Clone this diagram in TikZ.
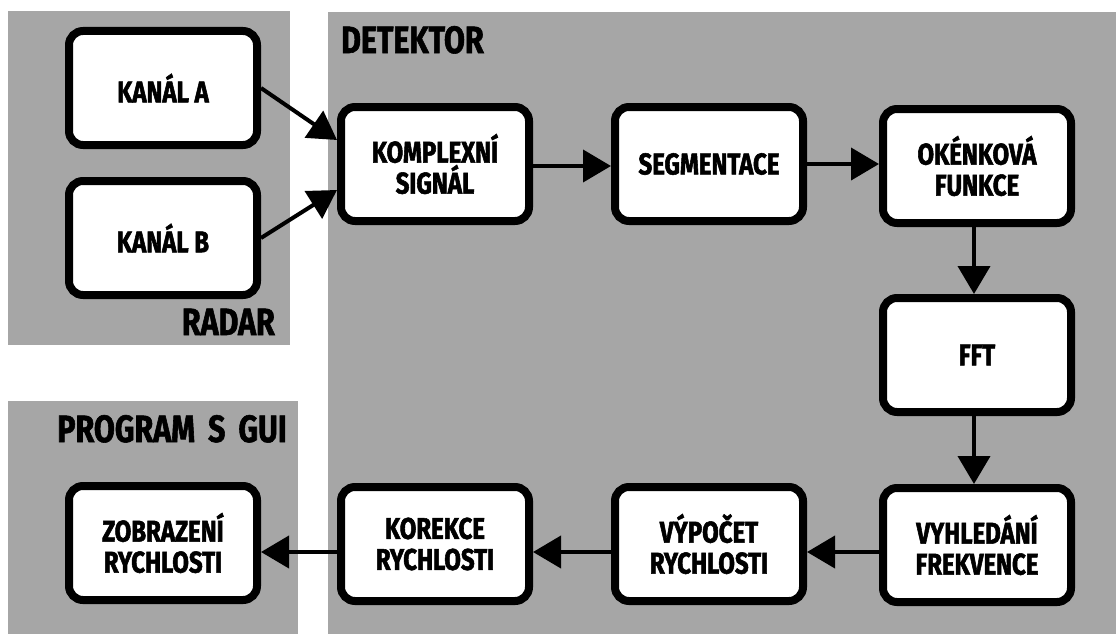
\documentclass[tikz,border=0pt]{standalone}
\usepackage{fontspec}
\newfontfamily\diafont{Fira Sans}[FakeStretch=0.8,FakeBold=1.5]
\newfontfamily\blokfont{Fira Sans}[FakeStretch=0.8,FakeBold=1.8]
\usetikzlibrary{arrows.meta}
\definecolor{zonegray}{RGB}{166,166,166}

\begin{document}
\begin{tikzpicture}[x=1pt,y=-1pt,
		blok/.style={draw,line width=8pt,rounded corners=14pt,fill=white,minimum width=188pt,minimum height=114pt,align=center,font=\blokfont\bfseries\fontsize{30}{31}\selectfont},
		zona/.style={inner sep=0pt,font=\diafont\bfseries\fontsize{38}{38}\selectfont},
		sipka/.style={line width=4pt,-{Triangle[length=28pt,width=32pt]}}]
		\useasboundingbox (0,0) rectangle (1116,634);

		\fill[zonegray] (8,11) rectangle (290,345);
		\fill[zonegray] (328,12) rectangle (1116,634);
		\fill[zonegray] (8,401) rectangle (298,634);
		\node[zona,anchor=base west] (detektor) at (341,53) {DETEKTOR};
		\node[zona,anchor=base east] (radar) at (275,335) {RADAR};
		\node[zona,anchor=base east] (gui) at (287,442) {PROGRAM\hspace{13pt}S\hspace{13pt}GUI};

		\node[blok] (kanalA) at (163,88) {KANÁL A};
		\node[blok] (kanalB) at (163,238) {KANÁL B};
		\node[blok] (komplex) at (435,164) {KOMPLEXNÍ\\SIGNÁL};
		\node[blok] (segment) at (709,164) {SEGMENTACE};
		\node[blok] (okno) at (977,166) {OKÉNKOVÁ\\FUNKCE};
		\node[blok] (fft) at (977,355) {FFT};
		\node[blok] (hledani) at (977,545) {VYHLEDÁNÍ\\FREKVENCE};
		\node[blok] (vypocet) at (709,544) {VÝPOČET\\RYCHLOSTI};
		\node[blok] (korekce) at (435,544) {KOREKCE\\RYCHLOSTI};
		\node[blok] (zobrazeni) at (163,543) {ZOBRAZENÍ\\RYCHLOSTI};

		\draw[sipka] (kanalA.east) -- ([yshift=24pt]komplex.west);
		\draw[sipka] (kanalB.east) -- ([yshift=-26pt]komplex.west);
		\draw[sipka] ([yshift=-2pt]komplex.east) -- ([yshift=-2pt]segment.west);
		\draw[sipka] (segment.east) -- ([yshift=2pt]okno.west);
		\draw[sipka] ([xshift=-3pt]okno.south) -- ([xshift=-3pt]fft.north);
		\draw[sipka] ([xshift=-3pt]fft.south) -- ([xshift=-3pt]hledani.north);
		\draw[sipka] ([yshift=-7pt]hledani.west) -- ([yshift=-8pt]vypocet.east);
		\draw[sipka] ([yshift=-8pt]vypocet.west) -- ([yshift=-8pt]korekce.east);
		\draw[sipka] ([yshift=-8pt]korekce.west) -- ([yshift=-9pt]zobrazeni.east);
	\end{tikzpicture}
\end{document}
